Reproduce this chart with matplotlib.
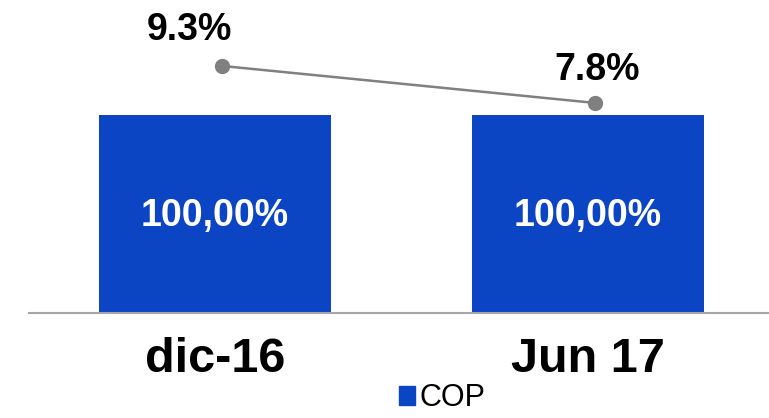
import numpy as np
import matplotlib.pyplot as plt
from matplotlib.patches import Patch

plt.rcParams['font.family'] = ['Liberation Sans', 'DejaVu Sans']

# Datos
categorias = ['dic-16', 'Jun 17']
cop = [100.0, 100.0]
etiquetas_cop = ['100,00%', '100,00%']
tasa = [9.3, 7.8]
etiquetas_tasa = ['9.3%', '7.8%']

azul = '#0B45C4'
gris = '#808080'

fig = plt.figure(figsize=(7.69, 4.18), dpi=100)
# ejes: base en y=313 px, categorías de 373 px
ax = fig.add_axes([28.5/769, 105/418, 746/769, 313/418])
x = np.arange(len(categorias))

ax.bar(x, cop, width=232/373, color=azul, zorder=2)
for xi, v, t in zip(x, cop, etiquetas_cop):
    ax.text(xi, v/2 - 1, t, color='white', fontsize=27, fontweight='bold',
            ha='center', va='center')

ax.set_xlim(-0.5, 1.5)
ax.set_ylim(0, 100*313/198)
ax.set_xticks(x)
ax.set_xticklabels(categorias, fontsize=35, fontweight='bold')
ax.tick_params(axis='x', length=0, pad=17)
ax.set_yticks([])
for s in ['top', 'right', 'left']:
    ax.spines[s].set_visible(False)
ax.spines['bottom'].set_color('#A6A6A6')
ax.spines['bottom'].set_linewidth(1.5)
ax.spines['bottom'].set_zorder(3)

# Línea de tasa
ax2 = ax.twinx()
ax2.set_ylim(-(313-295.4)/24.67, 295.4/24.67)
ax2.axis('off')
xl = x + 0.02
ax2.plot(xl, tasa, color=gris, lw=1.8, marker='o', markersize=10, zorder=3)
ax2.annotate(etiquetas_tasa[0], (xl[0], tasa[0]), xytext=(-24, 13),
             textcoords='offset points', ha='center', va='bottom',
             fontsize=27, fontweight='bold')
ax2.annotate(etiquetas_tasa[1], (xl[1], tasa[1]), xytext=(1, 11),
             textcoords='offset points', ha='center', va='bottom',
             fontsize=27, fontweight='bold')

fig.legend(handles=[Patch(color=azul, label='COP')], loc='lower center',
           bbox_to_anchor=(0.575, -0.055), frameon=False, fontsize=22,
           handlelength=0.55, handleheight=0.55, handletextpad=0.15)

fig.savefig('out.png', dpi=100)
